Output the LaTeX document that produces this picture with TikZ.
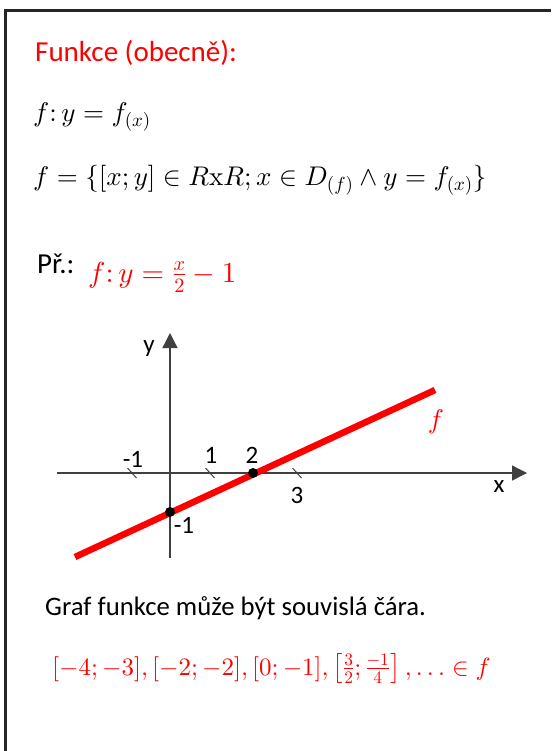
\documentclass[tikz,border=0pt]{standalone}
\usepackage[no-math]{fontspec}
\setmainfont{Carlito}
\DeclareFontShape{OML}{cmm}{m}{it}{<->cmmi10}{}
\DeclareFontShape{OT1}{cmr}{m}{n}{<->cmr10}{}
\DeclareFontShape{OMS}{cmsy}{m}{n}{<->cmsy10}{}
\DeclareFontShape{OMX}{cmex}{m}{n}{<->cmex10}{}
\usetikzlibrary{arrows.meta}
\begin{document}
\begin{tikzpicture}[x=1pt,y=-1pt,
  txt/.style={inner sep=0pt, anchor=base west, font=\fontsize{29}{33}\selectfont},
  mth/.style={inner sep=0pt, anchor=base west, font=\fontsize{27}{32}\selectfont},
  lbl/.style={inner sep=0pt, anchor=base, font=\fontsize{25}{28}\selectfont},
  axisline/.style={line width=1.3pt, draw=black!75, -{Triangle[length=15pt,width=15pt]}},
  tickmark/.style={line width=1pt, draw=black!75},
  ptdot/.style={circle, fill=black, inner sep=0pt, minimum size=10pt},
  fline/.style={line width=6.5pt, draw=red},
  frame/.style={line width=3pt, draw=black!85}]
\useasboundingbox (0,0) rectangle (551,751);
% frame
\coordinate (fbl) at (5.5,751);
\coordinate (ftl) at (5.5,10.5);
\coordinate (ftr) at (551,10.5);
\draw[frame] (fbl) -- (ftl) -- (ftr);
% texts
\node[txt, text=red] (title) at (35,62) {Funkce (obecně):};
\node[mth] (def1) at (33,122) {$f\colon y=f_{(x)}$};
\node[mth] (def2) at (33,186) {$f=\Big\{[x;y]\in R\mathrm{x}R;x\in D_{(f)}\wedge y=f_{(x)}\Big\}$};
\node[txt] (pr) at (37,273) {Př.:};
\node[mth, text=red, font=\fontsize{29}{33}\selectfont] (prm) at (88,282) {$f\colon y=\frac{x}{2}-1$};
% graph
\coordinate (O) at (170,473);
\coordinate (xs) at (57,473);
\coordinate (xe) at (527,473);
\coordinate (ys) at (170,558);
\coordinate (ye) at (170,333);
\draw[axisline] (xs) -- (xe);
\draw[axisline] (ys) -- (ye);
\foreach \n/\xx in {tm1/132, t1/210, t3/297}{
  \coordinate (\n) at (\xx,473);
  \draw[tickmark] ([shift={(-4.5,-5)}]\n) -- ([shift={(4.5,5)}]\n);
}
\coordinate (fa) at (75,557);
\coordinate (fb) at (435,390);
\draw[fline] (fa) -- (fb);
\node[ptdot] (p0) at (170,512) {};
\node[ptdot] (p2) at (253,473) {};
\node[lbl] (lm1) at (133,467) {-1};
\node[lbl] (l1) at (211,463) {1};
\node[lbl] (l2) at (252,463) {2};
\node[lbl] (l3) at (297,503) {3};
\node[lbl] (lx) at (499,492) {x};
\node[lbl] (ly) at (149,352) {y};
\node[lbl] (lym1) at (184,533) {-1};
\node[inner sep=0pt, anchor=base, text=red, font=\fontsize{27}{32}\selectfont] (lf) at (436,428) {$f$};
% bottom
\node[txt, font=\fontsize{26.7}{30}\selectfont] (graf) at (45,615) {Graf funkce může být souvislá čára.};
\node[mth, text=red, font=\fontsize{25}{30}\selectfont] (pts) at (52,675) {$[-4;-3],[-2;-2],[0;-1],\left[\frac{3}{2};\frac{-1}{4}\right],\dots\in f$};
\end{tikzpicture}
\end{document}
